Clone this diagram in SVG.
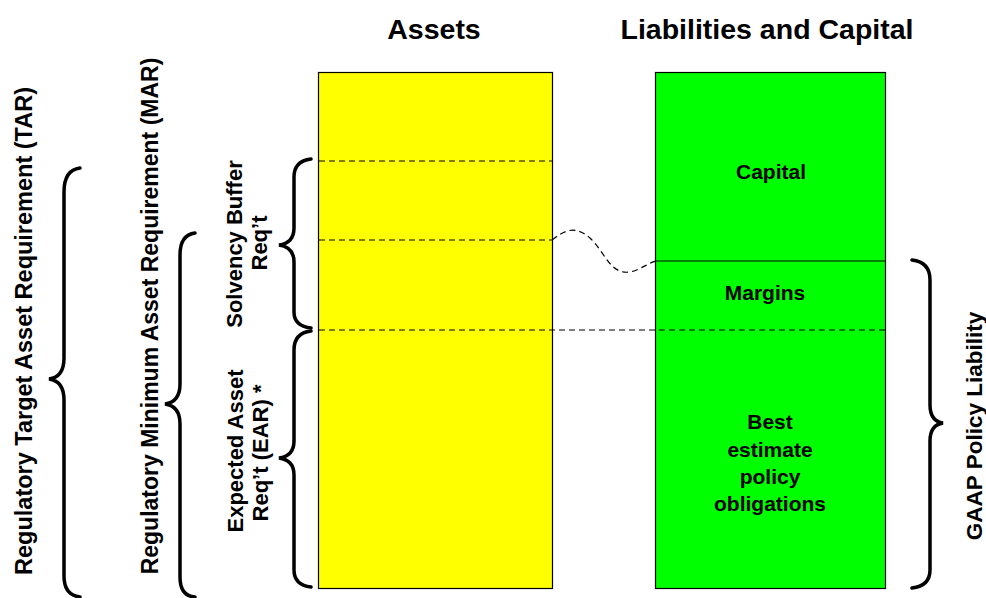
<svg xmlns="http://www.w3.org/2000/svg" width="986" height="598" viewBox="0 0 986 598">
<style>
text{font-family:"Liberation Sans",Arial,sans-serif;font-weight:bold;fill:#000}
.h{font-size:28.5px}
.l{font-size:21px}
.s{font-size:22px}
.box{stroke:#000;stroke-width:1.2}
.dash{stroke:#000;stroke-width:1.2;stroke-dasharray:6 4;fill:none}
.brace{fill:none;stroke:#000;stroke-width:3.5;stroke-linecap:round}
</style>
<rect width="986" height="598" fill="#fff"/>
<text class="h" x="434" y="39" text-anchor="middle">Assets</text>
<text class="h" x="767" y="39" text-anchor="middle">Liabilities and Capital</text>
<g id="assets">
<rect class="box" x="318.5" y="72.5" width="234" height="516" fill="#ffff00"/>
</g>
<g id="liabilities">
<rect class="box" x="655.5" y="72.5" width="230" height="516" fill="#00ff00"/>
<line x1="655.5" y1="261" x2="885.5" y2="261" stroke="#000" stroke-width="1.2"/>
<text class="l" x="771" y="179" text-anchor="middle">Capital</text>
<text class="l" x="765" y="300" text-anchor="middle">Margins</text>
<text class="l" text-anchor="middle"><tspan x="770" y="429">Best</tspan><tspan x="770" y="457">estimate</tspan><tspan x="770" y="484">policy</tspan><tspan x="770" y="511">obligations</tspan></text>
</g>
<g id="connectors">
<line class="dash" x1="319" y1="161" x2="552" y2="161"/>
<line class="dash" x1="319" y1="240" x2="552" y2="240"/>
<line class="dash" x1="319" y1="330" x2="885" y2="330"/>
<path class="dash" d="M552,240 C565,230 575,225 590,238 C605,252 610,275 630,272 C640,270 648,263 656,261"/>
</g>
<g id="tar">
<path class="brace" d="M80,168 Q64,170 64,192 L64,358 Q64,377 49,379 Q64,381 64,400 L64,576 Q64,595 80,597"/>
<text transform="translate(32,331) rotate(-90)" text-anchor="middle" font-size="23.5">Regulatory Target Asset Requirement (TAR)</text>
</g>
<g id="mar">
<path class="brace" d="M195,233 Q180,235 180,255 L180,384 Q180,402 165,404 Q180,406 180,424 L180,577 Q180,596 195,597"/>
<text transform="translate(158,316) rotate(-90)" text-anchor="middle" font-size="23">Regulatory Minimum Asset Requirement (MAR)</text>
</g>
<g id="sbr">
<path class="brace" d="M311,159 Q294,161 294,177 L294,228 Q294,243 279,245 Q294,247 294,262 L294,312 Q294,326 311,328"/>
<text class="s" transform="translate(242,244) rotate(-90)" text-anchor="middle">Solvency Buffer</text>
<text class="s" transform="translate(267,243) rotate(-90)" text-anchor="middle">Req’t</text>
</g>
<g id="ear">
<path class="brace" d="M311,331 Q294,333 294,350 L294,441 Q294,456 279,458 Q294,460 294,475 L294,570 Q294,585 311,587"/>
<text class="s" transform="translate(243,451) rotate(-90)" text-anchor="middle">Expected Asset</text>
<text class="s" transform="translate(268,453) rotate(-90)" text-anchor="middle">Req’t (EAR) *</text>
</g>
<g id="gaap">
<path class="brace" d="M912,260 Q930,262 930,280 L930,405 Q930,421 943,423 Q930,425 930,441 L930,570 Q930,586 912,588"/>
<text transform="translate(982,426) rotate(-90)" text-anchor="middle" font-size="22.5">GAAP Policy Liability</text>
</g>
</svg>
